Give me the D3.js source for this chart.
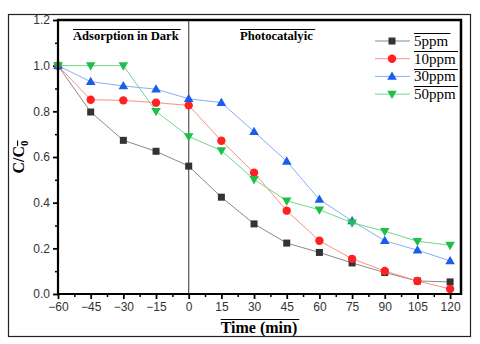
<!DOCTYPE html>
<html>
<head>
<meta charset="utf-8">
<script src="https://cdn.jsdelivr.net/npm/d3@7"></script>
<style>
  body { margin: 0; background: #fff; }
  svg { display: block; }
</style>
</head>
<body>
<div id="chart"></div>
<script>
// data
const times = [-60, -45, -30, -15, 0, 15, 30, 45, 60, 75, 90, 105, 120];
const ppm5  = [1.0, 0.797, 0.673, 0.625, 0.56, 0.424, 0.307, 0.223, 0.182, 0.136, 0.094, 0.057, 0.053];
const ppm10 = [1.0, 0.851, 0.848, 0.838, 0.826, 0.671, 0.531, 0.365, 0.233, 0.154, 0.101, 0.057, 0.022];
const ppm30 = [1.0, 0.930, 0.911, 0.897, 0.855, 0.838, 0.711, 0.581, 0.414, 0.320, 0.233, 0.192, 0.145];
const ppm50 = [1.0, 1.0, 1.0, 0.80, 0.69, 0.628, 0.502, 0.408, 0.369, 0.312, 0.275, 0.231, 0.214];
const seriesNames = ["5ppm", "10ppm", "30ppm", "50ppm"];
const xTicks = [-60, -45, -30, -15, 0, 15, 30, 45, 60, 75, 90, 105, 120];
const yTicks = [0, 0.2, 0.4, 0.6, 0.8, 1.0, 1.2];

const series = [
  {name: seriesNames[0], values: ppm5,  line: "#8a8a8a", fill: "#333333", shape: "square"},
  {name: seriesNames[1], values: ppm10, line: "#ff8c8c", fill: "#ff2020", shape: "circle"},
  {name: seriesNames[2], values: ppm30, line: "#86aef5", fill: "#1a5cf0", shape: "up"},
  {name: seriesNames[3], values: ppm50, line: "#6fd88e", fill: "#1fc04a", shape: "down"}
];

const W = 480, H = 344;
const pLeft = 58, pRight = 461, pTop = 20, pBottom = 294;

const svg = d3.select("#chart").append("svg")
  .attr("width", W).attr("height", H);

// outer frame
svg.append("rect")
  .attr("x", 8.5).attr("y", 14.5).attr("width", 462).attr("height", 322)
  .attr("fill", "none").attr("stroke", "#222").attr("stroke-width", 1.2);

const x = d3.scaleLinear().domain([-60, 125]).range([pLeft, pRight]);
const y = d3.scaleLinear().domain([0, 1.2]).range([pBottom, pTop]);

// minor ticks
svg.append("g")
  .attr("transform", `translate(0,${pBottom})`)
  .call(d3.axisBottom(x).tickValues(d3.range(-52.5, 125, 15)).tickSize(3).tickFormat(""))
  .call(g => g.select(".domain").remove())
  .call(g => g.selectAll("line").attr("stroke-width", 1.5));
svg.append("g")
  .attr("transform", `translate(${pLeft},0)`)
  .call(d3.axisLeft(y).tickValues(d3.range(0.1, 1.2, 0.2)).tickSize(3).tickFormat(""))
  .call(g => g.select(".domain").remove())
  .call(g => g.selectAll("line").attr("stroke-width", 1.5));

// major axes
svg.append("g")
  .attr("transform", `translate(0,${pBottom})`)
  .call(d3.axisBottom(x).tickValues(xTicks).tickSize(5).tickPadding(3).tickFormat(d3.format("d")))
  .call(g => g.select(".domain").remove())
  .call(g => g.selectAll("line").attr("stroke-width", 1.8))
  .call(g => g.selectAll("text").attr("font-family", "Liberation Sans, Arial, sans-serif")
    .attr("font-size", 12).attr("fill", "#333"));
svg.append("g")
  .attr("transform", `translate(${pLeft},0)`)
  .call(d3.axisLeft(y).tickValues(yTicks).tickSize(5).tickPadding(3).tickFormat(d3.format(".1f")))
  .call(g => g.select(".domain").remove())
  .call(g => g.selectAll("line").attr("stroke-width", 1.8))
  .call(g => g.selectAll("text").attr("font-family", "Liberation Sans, Arial, sans-serif")
    .attr("font-size", 12).attr("fill", "#333"));

// vertical divider at t = 0
svg.append("line")
  .attr("x1", x(0)).attr("x2", x(0)).attr("y1", pTop).attr("y2", pBottom)
  .attr("stroke", "#555").attr("stroke-width", 1.2);

// lines and markers
const line = d3.line().x((d, i) => x(times[i])).y(d => y(d));

function marker(g, shape, fill) {
  if (shape === "square") {
    g.append("rect").attr("x", -3.5).attr("y", -3.5).attr("width", 7).attr("height", 7).attr("fill", fill);
  } else if (shape === "circle") {
    g.append("circle").attr("r", 4.2).attr("fill", fill);
  } else if (shape === "up") {
    g.append("path").attr("d", "M0,-5L4.8,3.3L-4.8,3.3Z").attr("fill", fill);
  } else {
    g.append("path").attr("d", "M0,5L4.8,-3.3L-4.8,-3.3Z").attr("fill", fill);
  }
}

series.forEach(s => {
  svg.append("path")
    .attr("d", line(s.values))
    .attr("fill", "none").attr("stroke", s.line).attr("stroke-width", 1);
  s.values.forEach((v, i) => {
    const g = svg.append("g").attr("transform", `translate(${x(times[i])},${y(v)})`);
    marker(g, s.shape, s.fill);
  });
});

// plot frame
svg.append("line").attr("x1", pLeft).attr("x2", pLeft).attr("y1", pTop - 1).attr("y2", pBottom + 1)
  .attr("stroke", "#000").attr("stroke-width", 2.2);
svg.append("line").attr("x1", pLeft - 1).attr("x2", pRight + 1).attr("y1", pBottom).attr("y2", pBottom)
  .attr("stroke", "#000").attr("stroke-width", 2.2);
svg.append("line").attr("x1", pLeft - 1).attr("x2", pRight + 1).attr("y1", pTop).attr("y2", pTop)
  .attr("stroke", "#000").attr("stroke-width", 2.5);
svg.append("line").attr("x1", pRight).attr("x2", pRight).attr("y1", pTop - 1).attr("y2", pBottom + 1)
  .attr("stroke", "#000").attr("stroke-width", 2.5);

// helper: text with an overline
function overText(tx, ty, str, size, weight, anchor) {
  const t = svg.append("text")
    .attr("x", tx).attr("y", ty)
    .attr("font-family", "Liberation Serif, Times New Roman, serif")
    .attr("font-size", size).attr("font-weight", weight)
    .attr("text-anchor", anchor || "start")
    .attr("fill", "#000")
    .text(str);
  const b = t.node().getBBox();
  const oy = Math.round(ty - size * 0.85) + 0.5;
  svg.append("line")
    .attr("x1", b.x).attr("x2", b.x + b.width + 2)
    .attr("y1", oy).attr("y2", oy)
    .attr("stroke", "#000").attr("stroke-width", 1.2);
  return t;
}

overText(73, 40, "Adsorption in Dark", 12.6, "bold");
overText(240, 40, "Photocatalyic", 12.6, "bold");
overText(259, 333, "Time (min)", 16, "bold", "middle");

// legend
series.forEach((s, i) => {
  const ly = 41 + i * 17.7;
  svg.append("line").attr("x1", 375).attr("x2", 410).attr("y1", ly).attr("y2", ly)
    .attr("stroke", s.line).attr("stroke-width", 1);
  const g = svg.append("g").attr("transform", `translate(392,${ly})`);
  marker(g, s.shape, s.fill);
  overText(414, ly + 5, s.name, 15, "normal");
});

// y label
const yl = svg.append("text")
  .attr("transform", "translate(24,157) rotate(-90)")
  .attr("text-anchor", "middle")
  .attr("font-family", "Liberation Serif, Times New Roman, serif")
  .attr("font-size", 16).attr("font-weight", "bold");
yl.append("tspan").text("C/C");
yl.append("tspan").attr("font-size", 11).attr("dy", 4).attr("text-decoration", "overline").text("0");
</script>
</body>
</html>
